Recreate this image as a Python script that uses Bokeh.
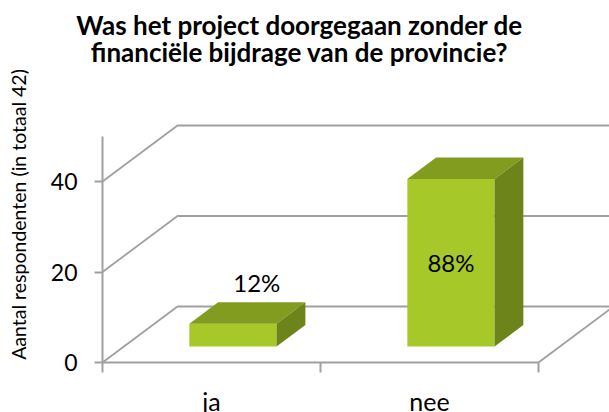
import numpy as np
from bokeh.plotting import figure
from bokeh.models import LinearAxis, FixedTicker, Label, Range1d, ColumnDataSource
from bokeh.core.properties import value
from bokeh.embed import file_html
from bokeh.resources import INLINE

# ---- data ----
categories = ["ja", "nee"]
counts = [5, 37]
total_respondents = 42
y_ticks = [0, 20, 40]
title_lines = ["Was het project doorgegaan zonder de",
               "financiële bijdrage van de provincie?"]
y_title = "Aantal respondenten (in totaal 42)"

# ---- geometry / style ----
W, H = 609, 412
PX_CAT = 218.0       # pixels per category
PX_UNIT = 4.525      # pixels per count unit
ORIGIN_X = 102       # px of x=0 from left
ORIGIN_YB = 50       # px of y=0 from bottom
DX = 75 / PX_CAT     # 3D depth offset (category units)
DY = 56 / PX_UNIT    # 3D depth offset (value units)
BW = 0.4             # bar width
D0, D1 = 0.286, 0.67 # bar depth span (fraction of depth)
FRONT, TOP, SIDE = "#a6c828", "#819c1f", "#6c8419"
GRID = "#a0a0a0"
FONT = "Lato"

p = figure(width=W, height=H, output_backend="svg", toolbar_location=None,
           x_range=Range1d(-ORIGIN_X / PX_CAT, (W - ORIGIN_X) / PX_CAT),
           y_range=Range1d(-ORIGIN_YB / PX_UNIT, (H - ORIGIN_YB) / PX_UNIT),
           x_axis_type=None, y_axis_type=None, min_border=0)
p.outline_line_color = None
p.background_fill_color = "white"
p.grid.visible = False

n = len(categories)
ymax_axis = 50

# back wall / floor grid lines
xs_lines, ys_lines = [], []
for t in y_ticks:
    xs_lines.append([0, DX, n + DX])
    ys_lines.append([t, t + DY, t + DY])
xs_lines.append([n, n + DX])
ys_lines.append([0, DY])
p.multi_line(xs_lines, ys_lines, line_color=GRID, line_width=1.8)

# bars
xc = np.arange(n) + 0.5
vals = np.array(counts, dtype=float)
dd = D1 - D0
left = xc - BW / 2 + D0 * DX
right = xc + BW / 2 + D0 * DX
bottom = np.full(n, D0 * DY)
top = vals + D0 * DY

p.quad(left=left, right=right, bottom=bottom, top=top,
       fill_color=FRONT, line_color=None)
p.patches([[l, r, r + dd * DX, l + dd * DX] for l, r in zip(left, right)],
          [[t, t, t + dd * DY, t + dd * DY] for t in top],
          fill_color=TOP, line_color=None)
p.patches([[r, r + dd * DX, r + dd * DX, r] for r in right],
          [[b, b + dd * DY, t + dd * DY, t] for b, t in zip(bottom, top)],
          fill_color=SIDE, line_color=None)

# percentage labels
pct = [f"{round(c / total_respondents * 100)}%" for c in counts]
inside = vals > 20
lab_x = np.where(inside, (left + right) / 2, (left + right) / 2 + dd * DX)
lab_y = np.where(inside, (bottom + top) / 2, top + dd * DY)
src_in = ColumnDataSource(dict(x=lab_x[inside], y=lab_y[inside],
                               t=[s for s, i in zip(pct, inside) if i]))
src_out = ColumnDataSource(dict(x=lab_x[~inside], y=lab_y[~inside],
                                t=[s for s, i in zip(pct, inside) if not i]))
p.text("x", "y", text="t", source=src_in, text_align="center",
       text_baseline="middle", text_font=value(FONT), text_font_size="24px",
       text_color="black")
p.text("x", "y", text="t", source=src_out, text_align="center",
       text_baseline="bottom", text_font=value(FONT), text_font_size="24px",
       text_color="black", x_offset=-5, y_offset=-5)

# axes
yaxis = LinearAxis(fixed_location=0, ticker=FixedTicker(ticks=y_ticks),
                   bounds=(0, ymax_axis))
yaxis.axis_line_color = GRID
yaxis.axis_line_width = 2
yaxis.major_tick_line_color = GRID
yaxis.major_tick_line_width = 2
yaxis.major_tick_out = 8
yaxis.major_tick_in = 0
yaxis.minor_tick_line_color = None
yaxis.major_label_text_font = FONT
yaxis.major_label_text_font_size = "23px"
yaxis.major_label_text_color = "black"
yaxis.major_label_standoff = 17
p.add_layout(yaxis, "left")

xaxis = LinearAxis(fixed_location=0,
                   ticker=FixedTicker(ticks=list(xc), minor_ticks=list(range(n + 1))),
                   bounds=(0, n))
xaxis.major_label_overrides = {float(x): c for x, c in zip(xc, categories)}
xaxis.axis_line_color = GRID
xaxis.axis_line_width = 2
xaxis.major_tick_line_color = None
xaxis.major_tick_out = 0
xaxis.major_tick_in = 0
xaxis.minor_tick_line_color = GRID
xaxis.minor_tick_line_width = 2
xaxis.minor_tick_out = 10
xaxis.minor_tick_in = 0
xaxis.major_label_text_font = FONT
xaxis.major_label_text_font_size = "25px"
xaxis.major_label_text_color = "black"
xaxis.major_label_standoff = 13
p.add_layout(xaxis, "below")

# titles
for i, line in enumerate(title_lines):
    p.add_layout(Label(x=299, y=388 - 27 * i, x_units="screen", y_units="screen",
                       text=line, text_align="center", text_baseline="middle",
                       text_font=FONT, text_font_style="bold",
                       text_font_size="26px", text_color="black"))

p.add_layout(Label(x=18, y=198, x_units="screen", y_units="screen",
                   text=y_title, angle=np.pi / 2, text_align="center",
                   text_baseline="middle", text_font=FONT,
                   text_font_size="19.5px", text_color="black"))

open("out.html", "w").write(file_html(p, INLINE))
